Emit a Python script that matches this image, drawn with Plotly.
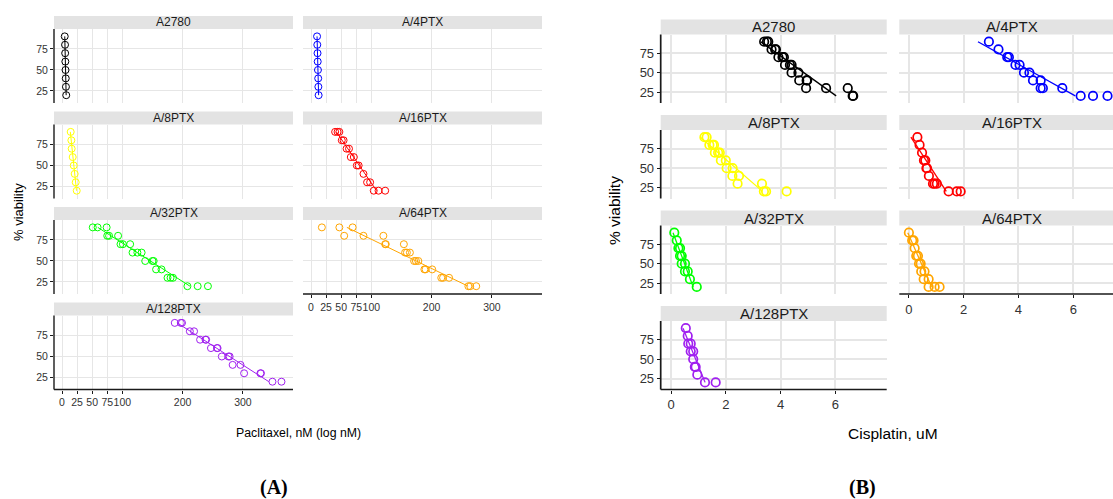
import numpy as np
import plotly.graph_objects as go

W, H = 1113, 499

# ---------------- data ----------------
cell_lines = ["A2780", "A/4PTX", "A/8PTX", "A/16PTX", "A/32PTX", "A/64PTX", "A/128PTX"]
line_colors = ["#000000", "#0000ff", "#ffff00", "#ff0000", "#00ff00", "#ffa500", "#a020f0"]

pac_ticks = [0, 25, 50, 75, 100, 200, 300]
cis_ticks = [0, 2, 4, 6]
viab_ticks = [25, 50, 75]

# Paclitaxel (nM) vs % viability
pac_a2780_dose = [4.5, 5, 5.2, 5.5, 5.8, 6.2, 6.5, 7]
pac_a2780_viab = [90, 80, 70, 60, 50, 40, 30, 20]

pac_4ptx_dose = [10, 10.4, 10.8, 11.1, 11.5, 11.9, 12.2, 12.6]
pac_4ptx_viab = [90, 80, 70, 60, 50, 40, 30, 20]

pac_8ptx_dose = [14.4, 15.5, 16, 17.7, 19.4, 21, 22.7, 24.4]
pac_8ptx_viab = [90, 80, 70, 60, 50, 40, 30, 20]

pac_16ptx_dose = [40, 44, 47, 51, 54, 59, 63, 66, 71, 76, 79, 87, 93, 98, 104, 112, 123]
pac_16ptx_viab = [90, 90, 90, 80, 80, 70, 70, 60, 60, 50, 50, 40, 30, 30, 20, 20, 20]

pac_32ptx_dose = [51, 59, 74, 75, 78, 93, 97, 101, 113, 117, 125, 132, 138, 150, 152,
                  156, 165, 175, 180, 184, 208, 225, 242]
pac_32ptx_viab = [90, 90, 90, 80, 80, 80, 70, 70, 70, 60, 60, 60, 50, 50, 50,
                  40, 40, 30, 30, 30, 20, 20, 20]

pac_64ptx_dose = [18, 47, 69, 55, 87, 120, 123, 124, 154, 156, 159, 164, 171, 174, 178,
                  188, 190, 201, 216, 219, 229, 261, 264, 274]
pac_64ptx_viab = [90, 90, 90, 80, 80, 80, 70, 70, 70, 60, 60, 60, 50, 50, 50,
                  40, 40, 40, 30, 30, 30, 20, 20, 20]

pac_128ptx_dose = [187, 197, 199, 212, 219, 229, 238, 239, 247, 257, 258, 265, 276, 278,
                   283, 296, 302, 329, 330, 349, 364]
pac_128ptx_viab = [90, 90, 90, 80, 80, 70, 70, 70, 60, 60, 60, 50, 50, 50,
                   40, 40, 30, 30, 30, 20, 20]

# Cisplatin (uM) vs % viability
cis_a2780_dose = [3.4, 3.5, 3.55, 3.67, 3.8, 3.83, 3.92, 4.07, 4.12, 4.16, 4.34, 4.4,
                  4.4, 4.65, 4.68, 4.95, 4.97, 4.93, 5.66, 6.45, 6.63, 6.65]
cis_a2780_viab = [90, 90, 90, 80, 80, 80, 70, 70, 70, 60, 60, 60,
                  50, 50, 40, 40, 40, 30, 30, 30, 20, 20]

cis_4ptx_dose = [2.92, 3.27, 3.59, 3.65, 3.89, 4.04, 4.2, 4.4, 4.53, 4.81, 4.81, 4.89,
                 5.6, 6.27, 6.72, 7.25]
cis_4ptx_viab = [90, 80, 70, 70, 60, 60, 50, 50, 40, 40, 30, 30, 30, 20, 20, 20]

cis_8ptx_dose = [1.22, 1.3, 1.4, 1.52, 1.57, 1.6, 1.72, 1.78, 1.82, 2.0, 2.03, 2.25,
                 2.24, 2.48, 2.43, 3.32, 3.39, 3.47, 4.22]
cis_8ptx_viab = [90, 90, 80, 80, 80, 70, 70, 70, 60, 60, 50, 50,
                 40, 40, 30, 30, 20, 20, 20]

cis_16ptx_dose = [0.31, 0.39, 0.48, 0.55, 0.6, 0.66, 0.64, 0.73, 0.88, 0.94, 1.02,
                  1.45, 1.75, 1.89]
cis_16ptx_viab = [90, 80, 70, 60, 60, 50, 50, 40, 30, 30, 30, 20, 20, 20]

cis_32ptx_dose = [0.12, 0.21, 0.27, 0.33, 0.33, 0.39, 0.39, 0.51, 0.51, 0.61, 0.69, 0.94]
cis_32ptx_viab = [90, 80, 70, 70, 60, 60, 50, 50, 40, 40, 30, 20]

cis_64ptx_dose = [0.0, 0.12, 0.17, 0.21, 0.27, 0.33, 0.37, 0.43, 0.45, 0.57, 0.54,
                  0.72, 0.72, 0.94, 1.12]
cis_64ptx_viab = [90, 80, 80, 70, 60, 60, 50, 50, 40, 40, 30, 30, 20, 20, 20]

cis_128ptx_dose = [0.54, 0.61, 0.63, 0.72, 0.72, 0.81, 0.81, 0.87, 0.9, 0.96, 1.24, 1.63]
cis_128ptx_viab = [90, 80, 70, 70, 60, 60, 50, 40, 40, 30, 20, 20]

pac_sets = [
    (pac_a2780_dose, pac_a2780_viab), (pac_4ptx_dose, pac_4ptx_viab),
    (pac_8ptx_dose, pac_8ptx_viab), (pac_16ptx_dose, pac_16ptx_viab),
    (pac_32ptx_dose, pac_32ptx_viab), (pac_64ptx_dose, pac_64ptx_viab),
    (pac_128ptx_dose, pac_128ptx_viab),
]
cis_sets = [
    (cis_a2780_dose, cis_a2780_viab), (cis_4ptx_dose, cis_4ptx_viab),
    (cis_8ptx_dose, cis_8ptx_viab), (cis_16ptx_dose, cis_16ptx_viab),
    (cis_32ptx_dose, cis_32ptx_viab), (cis_64ptx_dose, cis_64ptx_viab),
    (cis_128ptx_dose, cis_128ptx_viab),
]

# ---------------- helpers ----------------
FONT = "Liberation Sans, Arial, sans-serif"
GRID = "#e6e6e6"
STRIP = "#e3e3e3"
INK = "#1a1a1a"


def fx(p):
    return p / W


def fy(p):
    return 1 - p / H


fig = go.Figure()
layout = {}
strip_shapes = []
axis_shapes = []
annotations = []
axis_idx = [0]


def add_panel(cell, color, dose, viab, col_x, row_y, xrange, yrange, xticks,
              show_x, show_y, st):
    axis_idx[0] += 1
    i = axis_idx[0]
    xname = "x" if i == 1 else f"x{i}"
    yname = "y" if i == 1 else f"y{i}"
    x0, x1, strip_x1 = col_x
    s_top, p_top, p_bot = row_y

    fig.add_trace(go.Scatter(
        x=dose, y=viab, mode="markers", xaxis=xname, yaxis=yname,
        marker=dict(symbol="circle-open", size=st["msize"], color=color,
                    line=dict(width=st["mwidth"], color=color)),
        showlegend=False, hoverinfo="skip"))

    # straight-line fit of dose on viability, drawn across the viability span
    slope, intercept = np.polyfit(viab, dose, 1)
    vy = np.array([max(viab), min(viab)], dtype=float)
    fig.add_trace(go.Scatter(
        x=intercept + slope * vy, y=vy, mode="lines", xaxis=xname, yaxis=yname,
        line=dict(color=color, width=st["lwidth"]),
        showlegend=False, hoverinfo="skip"))

    layout["xaxis" if i == 1 else f"xaxis{i}"] = dict(
        domain=[fx(x0), min(fx(x1), 1.0)], range=xrange, anchor=yname,
        tickmode="array", tickvals=xticks, ticktext=[str(t) for t in xticks],
        tickangle=0,
        showgrid=True, gridcolor=GRID, gridwidth=st["gw"], zeroline=False,
        showline=False,
        ticks="outside" if show_x else "", ticklen=3, tickwidth=1.2,
        tickcolor=INK, showticklabels=show_x,
        tickfont=dict(family=FONT, size=st["tick"], color="#333333"))
    layout["yaxis" if i == 1 else f"yaxis{i}"] = dict(
        domain=[fy(p_bot), fy(p_top)], range=yrange, anchor=xname,
        tickmode="array", tickvals=viab_ticks,
        showgrid=True, gridcolor=GRID, gridwidth=st["gw"], zeroline=False,
        showline=False,
        ticks="outside" if show_y else "", ticklen=3, tickwidth=1.2,
        tickcolor=INK, showticklabels=show_y,
        tickfont=dict(family=FONT, size=st["tick"], color="#333333"))

    # axis lines: left edge of the first column, bottom edge of each column's last panel
    if show_y:
        axis_shapes.append(dict(type="line", xref="paper", yref="paper",
                                x0=fx(x0), x1=fx(x0), y0=fy(p_bot), y1=fy(p_top),
                                line=dict(color=INK, width=st["aw"])))
    if show_x:
        axis_shapes.append(dict(type="line", xref="paper", yref="paper",
                                x0=fx(x0), x1=min(fx(x1), 1.0), y0=fy(p_bot),
                                y1=fy(p_bot), line=dict(color=INK, width=st["aw"])))

    # facet strip
    strip_shapes.append(dict(type="rect", xref="paper", yref="paper",
                             x0=fx(x0), x1=fx(strip_x1), y0=fy(p_top), y1=fy(s_top),
                             fillcolor=STRIP, line=dict(width=0), layer="below"))
    annotations.append(dict(xref="paper", yref="paper",
                            x=fx((x0 + strip_x1) / 2), y=fy((s_top + p_top) / 2),
                            text=cell, showarrow=False, xanchor="center",
                            yanchor="middle",
                            font=dict(family=FONT, size=st["strip"], color=INK)))


def facet_grid(sets, left, right, rows, xr_left, xr_right, yrange, xticks, st):
    # left column: A2780, A/8PTX, A/32PTX, A/128PTX ; right column: the rest
    left_cells = [0, 2, 4, 6]
    right_cells = [1, 3, 5]
    for r, k in enumerate(left_cells):
        add_panel(cell_lines[k], line_colors[k], sets[k][0], sets[k][1], left,
                  rows[r], xr_left, yrange, xticks, r == len(left_cells) - 1, True, st)
    for r, k in enumerate(right_cells):
        add_panel(cell_lines[k], line_colors[k], sets[k][0], sets[k][1], right,
                  rows[r], xr_right, yrange, xticks, r == len(right_cells) - 1, False, st)


# ---- Panel A: paclitaxel ----
st_a = dict(msize=7, mwidth=1, lwidth=1, gw=1.4, aw=1.4, tick=10.5, strip=12)
rows_a = [(16 + 95.5 * r, 29 + 95.5 * r, 103 + 95.5 * r) for r in range(4)]
xr_a = [-13.3, 383.1]
facet_grid(pac_sets, (54, 293, 293), (303, 542, 542), rows_a, xr_a, xr_a,
           [10.7, 98.8], pac_ticks, st_a)

# ---- Panel B: cisplatin ----
st_b = dict(msize=8.5, mwidth=1.7, lwidth=1.3, gw=1.6, aw=1.7, tick=13, strip=15)
rows_b = [(19.5 + 95.5 * r, 34.5 + 95.5 * r, 103 + 95.5 * r) for r in range(4)]
facet_grid(cis_sets, (660.7, 886.7, 886.7), (899.3, 1113, 1125.3), rows_b,
           [-0.376, 7.872], [-0.35, 7.45], [10.8, 99.3], cis_ticks, st_b)

# ---- titles and panel letters ----
annotations += [
    dict(xref="paper", yref="paper", x=fx(18), y=fy(212), text="% viability",
         textangle=-90, showarrow=False, xanchor="center", yanchor="middle",
         font=dict(family=FONT, size=13, color="#000000")),
    dict(xref="paper", yref="paper", x=fx(298), y=fy(433),
         text="Paclitaxel, nM (log nM)", showarrow=False, xanchor="center",
         yanchor="middle", font=dict(family=FONT, size=12.3, color="#000000")),
    dict(xref="paper", yref="paper", x=fx(614), y=fy(211), text="% viability",
         textangle=-90, showarrow=False, xanchor="center", yanchor="middle",
         font=dict(family=FONT, size=15.5, color="#000000")),
    dict(xref="paper", yref="paper", x=fx(893), y=fy(433), text="Cisplatin, uM",
         showarrow=False, xanchor="center", yanchor="middle",
         font=dict(family=FONT, size=15.5, color="#000000")),
    dict(xref="paper", yref="paper", x=fx(274), y=fy(487), text="<b>(A)</b>",
         showarrow=False, xanchor="center", yanchor="middle",
         font=dict(family="Liberation Serif, Times New Roman, serif", size=20,
                   color="#000000")),
    dict(xref="paper", yref="paper", x=fx(862), y=fy(487), text="<b>(B)</b>",
         showarrow=False, xanchor="center", yanchor="middle",
         font=dict(family="Liberation Serif, Times New Roman, serif", size=20,
                   color="#000000")),
]

fig.update_layout(
    width=W, height=H, margin=dict(l=0, r=0, t=0, b=0),
    paper_bgcolor="#ffffff", plot_bgcolor="#ffffff",
    shapes=strip_shapes + axis_shapes, annotations=annotations, showlegend=False,
    **layout)

fig.write_html("out.html", config={"displayModeBar": False})
